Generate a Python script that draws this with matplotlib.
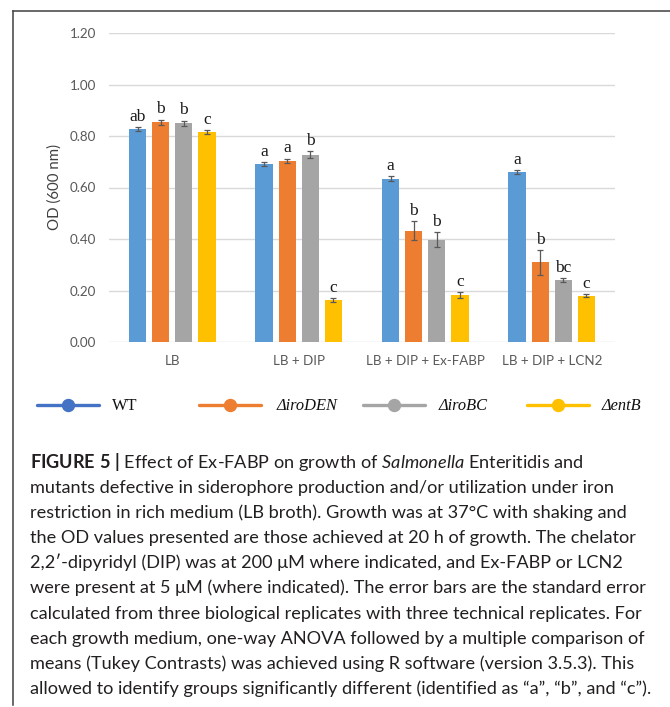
import numpy as np
import matplotlib
matplotlib.use('Agg')
import matplotlib.pyplot as plt
from matplotlib.lines import Line2D

# ---------------- data ----------------
categories = ['LB', 'LB + DIP', 'LB + DIP + Ex-FABP', 'LB + DIP + LCN2']
series_labels = ['WT', 'ΔiroDEN', 'ΔiroBC', 'ΔentB']

wt = [0.828, 0.690, 0.634, 0.659]
iroDEN = [0.854, 0.704, 0.432, 0.309]
iroBC = [0.850, 0.728, 0.397, 0.240]
entB = [0.816, 0.162, 0.182, 0.179]

wt_err = [0.007, 0.008, 0.010, 0.008]
iroDEN_err = [0.010, 0.008, 0.037, 0.049]
iroBC_err = [0.010, 0.012, 0.029, 0.007]
entB_err = [0.008, 0.007, 0.011, 0.006]

wt_sig = ['ab', 'a', 'a', 'a']
iroDEN_sig = ['b', 'a', 'b', 'b']
iroBC_sig = ['b', 'b', 'b', 'bc']
entB_sig = ['c', 'c', 'c', 'c']

yticks = [0.0, 0.2, 0.4, 0.6, 0.8, 1.0, 1.2]
ytick_labels = ['0.00', '0.20', '0.40', '0.60', '0.80', '1.00', '1.20']

caption_lines = [
    r"$\mathbf{FIGURE\ 5\ |}$ Effect of Ex-FABP on growth of $\mathit{Salmonella}$ Enteritidis and",
    "mutants defective in siderophore production and/or utilization under iron",
    "restriction in rich medium (LB broth). Growth was at 37°C with shaking and",
    "the OD values presented are those achieved at 20 h of growth. The chelator",
    "2,2′-dipyridyl (DIP) was at 200 μM where indicated, and Ex-FABP or LCN2",
    "were present at 5 μM (where indicated). The error bars are the standard error",
    "calculated from three biological replicates with three technical replicates. For",
    "each growth medium, one-way ANOVA followed by a multiple comparison of",
    "means (Tukey Contrasts) was achieved using R software (version 3.5.3). This",
    "allowed to identify groups significantly different (identified as “a”, “b”, and “c”).",
]

# ---------------- style ----------------
plt.rcParams['mathtext.fontset'] = 'custom'
plt.rcParams['mathtext.rm'] = 'Lato'
plt.rcParams['mathtext.it'] = 'Lato:italic'
plt.rcParams['mathtext.bf'] = 'Lato:bold'

W, H = 670, 707
fig = plt.figure(figsize=(W / 100, H / 100), dpi=100)


def fx(px):
    return px / W


def fy(py):
    return 1 - py / H


ax = fig.add_axes([fx(109), fy(342), (615 - 109) / W, (342 - 33) / H])

values = [wt, iroDEN, iroBC, entB]
errors = [wt_err, iroDEN_err, iroBC_err, entB_err]
sigs = [wt_sig, iroDEN_sig, iroBC_sig, entB_sig]
bar_colors = ['#5B9BD5', '#ED7D31', '#A5A5A5', '#FFC000']
line_colors = ['#4472C4', '#ED7D31', '#A5A5A5', '#FFC000']

x = np.arange(len(categories))
bw = 0.138
step = 0.182
for i, (vals, err, sig, c) in enumerate(zip(values, errors, sigs, bar_colors)):
    xs = x + (i - 1.5) * step
    ax.bar(xs, vals, bw, color=c, zorder=2)
    ax.errorbar(xs, vals, yerr=err, fmt='none', ecolor='#595959',
                elinewidth=0.9, capsize=2.4, capthick=0.9, zorder=3)
    for xi, v, e, s in zip(xs, vals, err, sig):
        ax.annotate(s, (xi, v + e), xytext=(0, 4.5), textcoords='offset points',
                    ha='center', va='baseline', fontsize=12.5,
                    family='Liberation Serif', color='#1a1a1a')

ax.set_xlim(-0.5, 3.5)
ax.set_ylim(0, 1.2)
ax.set_yticks(yticks)
ax.set_yticklabels(ytick_labels)
ax.set_xticks(x)
ax.set_xticklabels(categories)
ax.tick_params(axis='both', length=0, labelsize=9.6, labelcolor='#595959')
ax.tick_params(axis='y', pad=9.4)
ax.tick_params(axis='x', pad=9)
for lab in ax.get_xticklabels() + ax.get_yticklabels():
    lab.set_family('Lato')
for sp in ax.spines.values():
    sp.set_visible(False)
ax.yaxis.grid(True, color='#D9D9D9', linewidth=1.0)
ax.set_axisbelow(True)
ax.set_ylabel('OD (600 nm)', fontsize=10.8, family='Lato', color='#404040')
ax.yaxis.set_label_coords((62 - 109) / 506, 0.5)

# ---------------- legend ----------------
leg_y = 405
starts = [37, 199, 363, 527]
text_x = [112, 277, 439, 602]
for i, (lab, c) in enumerate(zip(series_labels, line_colors)):
    s = starts[i]
    fig.add_artist(Line2D([fx(s), fx(s + 62)], [fy(leg_y)] * 2, transform=fig.transFigure,
                          color=c, lw=2.4, solid_capstyle='round'))
    fig.add_artist(Line2D([fx(s + 31)], [fy(leg_y)], transform=fig.transFigure,
                          marker='o', ms=8.6, color=c, lw=0))
    fig.text(fx(text_x[i]), fy(410), lab, fontsize=11.8, family='Liberation Serif',
             style='normal' if i == 0 else 'italic', color='#111111',
             ha='left', va='baseline')

# ---------------- frame ----------------
fig.add_artist(Line2D([fx(12.7), fx(670)], [fy(10.5)] * 2, transform=fig.transFigure,
                      color='#404040', lw=1.1))
fig.add_artist(Line2D([fx(12.7)] * 2, [fy(10.5), fy(705)], transform=fig.transFigure,
                      color='#404040', lw=1.1))

# ---------------- caption ----------------
cap_family = ['Lato', 'DejaVu Sans']
base = 13.0
texts = []
for i, line in enumerate(caption_lines):
    t = fig.text(fx(30), fy(467.7 + 25.15 * i), line, fontsize=base, family=cap_family,
                 color='#231F20', ha='left', va='baseline')
    texts.append(t)
renderer = fig.canvas.get_renderer()
widths = [t.get_window_extent(renderer).width for t in texts]
targets = [560, 575, 600, 607, 596, 616, 609, 613, 612, 617]
scale = sum(targets) / sum(widths)
for t in texts:
    t.set_fontsize(base * scale)

fig.savefig('out.png', dpi=100)
